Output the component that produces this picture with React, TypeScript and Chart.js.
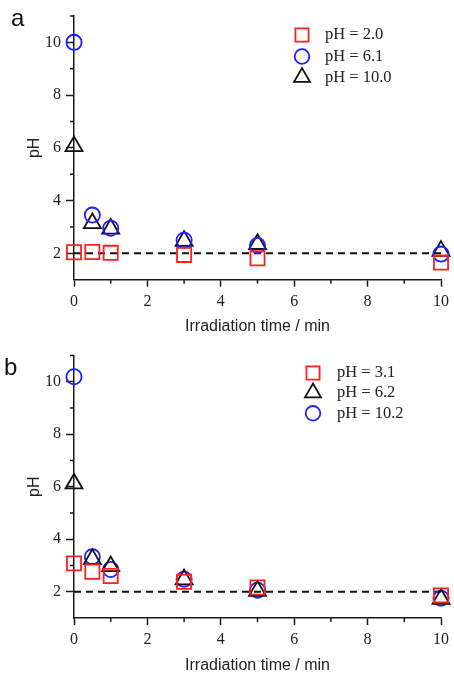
import React, { useEffect, useRef } from 'react';
import { Chart, registerables } from 'chart.js';

Chart.register(...registerables);

// ---------- data ----------
const timeMin = [0, 0.5, 1, 3, 5, 10];

const panelALabels = ['pH = 2.0', 'pH = 6.1', 'pH = 10.0'];
const panelASquares = [2.04, 2.05, 2.02, 1.94, 1.81, 1.65];
const panelACircles = [10.0, 3.45, 2.95, 2.5, 2.3, 1.97];
const panelATriangles = [6.06, 3.14, 2.93, 2.47, 2.35, 2.09];

const panelBLabels = ['pH = 3.1', 'pH = 6.2', 'pH = 10.2'];
const panelBSquares = [3.08, 2.76, 2.6, 2.38, 2.16, 1.86];
const panelBTriangles = [6.12, 3.24, 2.97, 2.47, 2.03, 1.73];
const panelBCircles = [10.19, 3.33, 2.85, 2.48, 2.06, 1.75];

const refLineX = [0, 10];
const refLineY = [2, 2];

const xMajorTicks = [0, 2, 4, 6, 8, 10];
const xMinorTicks = [1, 3, 5, 7, 9];
const yMajorTicks = [2, 4, 6, 8, 10];
const yMinorTicks = [3, 5, 7, 9, 11];

const xTitle = 'Irradiation time / min';
const yTitle = 'pH';

// ---------- styles ----------
const RED = '#ff1f1f';
const BLUE = '#1f1fff';
const BLACK = '#111111';
const AXIS = '#1a1a1a';
const TEXT = '#222222';
const SERIF = '"Liberation Serif", "Times New Roman", serif';
const SANS = '"Liberation Sans", Arial, sans-serif';
const MARK_W = 1.8;

type Series = { label: string; values: number[]; style: 'rect' | 'circle' | 'triangle'; color: string; radius: number; legendRadius: number };

const styleFor = {
  rect: { radius: 10, legendRadius: 9.3 },
  circle: { radius: 7.6, legendRadius: 7.3 },
  triangle: { radius: 9.8, legendRadius: 9.2 },
};

const panelASeries: Series[] = [
  { label: panelALabels[0], values: panelASquares, style: 'rect', color: RED, ...styleFor.rect },
  { label: panelALabels[1], values: panelACircles, style: 'circle', color: BLUE, ...styleFor.circle },
  { label: panelALabels[2], values: panelATriangles, style: 'triangle', color: BLACK, ...styleFor.triangle },
];
const panelBSeries: Series[] = [
  { label: panelBLabels[0], values: panelBSquares, style: 'rect', color: RED, ...styleFor.rect },
  { label: panelBLabels[1], values: panelBTriangles, style: 'triangle', color: BLACK, ...styleFor.triangle },
  { label: panelBLabels[2], values: panelBCircles, style: 'circle', color: BLUE, ...styleFor.circle },
];

function drawMarker(ctx: CanvasRenderingContext2D, style: string, x: number, y: number, r: number, color: string) {
  ctx.save();
  ctx.strokeStyle = color;
  ctx.lineWidth = MARK_W;
  ctx.beginPath();
  if (style === 'rect') {
    const h = r * Math.SQRT1_2;
    ctx.rect(x - h, y - h, 2 * h, 2 * h);
  } else if (style === 'circle') {
    ctx.arc(x, y, r, 0, Math.PI * 2);
  } else {
    ctx.moveTo(x, y - r);
    ctx.lineTo(x + 0.866 * r, y + r / 2);
    ctx.lineTo(x - 0.866 * r, y + r / 2);
    ctx.closePath();
  }
  ctx.stroke();
  ctx.restore();
}

type PanelProps = {
  series: Series[];
  width: number;
  height: number;
  padTop: number;
  padRight: number;
  axisHeight: number;
  legend: { markerX: number; textX: number; rows: number[] };
};

function Panel({ series, width, height, padTop, padRight, axisHeight, legend }: PanelProps) {
  const ref = useRef<HTMLCanvasElement | null>(null);
  useEffect(() => {
    if (!ref.current) return;
    const minorTickPlugin = {
      id: 'minorTicks',
      afterDraw(chart: any) {
        const { ctx } = chart;
        const xs = chart.scales.x;
        const ys = chart.scales.y;
        ctx.save();
        ctx.strokeStyle = AXIS;
        ctx.lineWidth = 1.5;
        for (const v of xMinorTicks) {
          const px = xs.getPixelForValue(v);
          ctx.beginPath();
          ctx.moveTo(px, xs.top);
          ctx.lineTo(px, xs.top + 4);
          ctx.stroke();
        }
        for (const v of yMinorTicks) {
          const py = ys.getPixelForValue(v);
          ctx.beginPath();
          ctx.moveTo(ys.right, py);
          ctx.lineTo(ys.right - 4, py);
          ctx.stroke();
        }
        ctx.restore();
      },
    };
    const legendPlugin = {
      id: 'markerLegend',
      afterDraw(chart: any) {
        const { ctx } = chart;
        ctx.save();
        ctx.font = `16.5px ${SERIF}`;
        ctx.fillStyle = TEXT;
        ctx.textBaseline = 'middle';
        ctx.textAlign = 'left';
        series.forEach((s, i) => {
          const y = legend.rows[i];
          drawMarker(ctx, s.style, legend.markerX, y, s.legendRadius, s.color);
          ctx.fillText(s.label, legend.textX, y);
        });
        ctx.restore();
      },
    };
    const datasets: any[] = series.map((s) => ({
      label: s.label,
      data: timeMin.map((x, i) => ({ x, y: s.values[i] })),
      pointStyle: s.style,
      pointRadius: s.radius,
      pointBorderColor: s.color,
      pointBackgroundColor: 'transparent',
      pointBorderWidth: MARK_W,
      borderColor: s.color,
      backgroundColor: 'transparent',
      showLine: false,
      clip: false,
    }));
    datasets.push({
      label: 'pH 2 reference',
      data: refLineX.map((x, i) => ({ x, y: refLineY[i] })),
      showLine: true,
      borderColor: BLACK,
      borderWidth: 2,
      borderDash: [7, 5],
      pointRadius: 0,
      clip: false,
    });
    const chart = new Chart(ref.current, {
      type: 'scatter',
      data: { datasets },
      options: {
        responsive: false,
        maintainAspectRatio: false,
        animation: false,
        events: [],
        layout: { padding: { left: 0, right: padRight, top: padTop, bottom: 0 } },
        plugins: { legend: { display: false }, tooltip: { enabled: false } },
        scales: {
          x: {
            type: 'linear',
            min: 0,
            max: 10,
            afterBuildTicks: (scale: any) => {
              scale.ticks = xMajorTicks.map((v) => ({ value: v }));
            },
            afterFit: (scale: any) => {
              scale.height = axisHeight;
            },
            ticks: {
              color: TEXT,
              font: { family: SERIF, size: 16 },
              padding: 5,
              maxRotation: 0,
              autoSkip: false,
              callback: (v: any) => String(v),
            },
            grid: { display: true, drawOnChartArea: false, drawTicks: true, tickLength: 7, tickColor: AXIS, tickWidth: 1.5 },
            border: { display: true, color: AXIS, width: 1.5 },
            title: { display: true, text: xTitle, color: TEXT, font: { family: SANS, size: 16 }, padding: 0 },
          },
          y: {
            type: 'linear',
            min: 1,
            max: 11,
            afterBuildTicks: (scale: any) => {
              scale.ticks = yMajorTicks.map((v) => ({ value: v }));
            },
            afterFit: (scale: any) => {
              scale.width = 74;
            },
            ticks: {
              color: TEXT,
              font: { family: SERIF, size: 16 },
              padding: 5,
              autoSkip: false,
              callback: (v: any) => String(v),
            },
            grid: { display: true, drawOnChartArea: false, drawTicks: true, tickLength: 8, tickColor: AXIS, tickWidth: 1.5 },
            border: { display: true, color: AXIS, width: 1.5 },
            title: { display: true, text: yTitle, color: TEXT, font: { family: SANS, size: 16 }, padding: { top: 25.4, bottom: 0 } },
          },
        },
      } as any,
      plugins: [minorTickPlugin, legendPlugin],
    });
    return () => chart.destroy();
  }, []);
  return <canvas ref={ref} width={width} height={height} style={{ display: 'block', width, height }} />;
}

const panelLetter: React.CSSProperties = {
  position: 'absolute',
  fontFamily: SANS,
  fontSize: 24,
  lineHeight: '24px',
  color: '#111',
};

export default function App() {
  return (
    <div style={{ position: 'absolute', left: 0, top: 0, width: 454, height: 675, background: '#fff', overflow: 'hidden' }}>
      <div style={{ position: 'absolute', left: 0, top: 0 }}>
        <Panel
          series={panelASeries}
          width={454}
          height={336}
          padTop={16}
          padRight={10.7}
          axisHeight={56.3}
          legend={{ markerX: 302, textX: 325, rows: [35, 56.5, 77.3] }}
        />
      </div>
      <div style={{ position: 'absolute', left: 0, top: 336 }}>
        <Panel
          series={panelBSeries}
          width={454}
          height={339}
          padTop={19.45}
          padRight={10.7}
          axisHeight={57}
          legend={{ markerX: 313, textX: 337, rows: [37, 56.7, 77.3] }}
        />
      </div>
      <div style={{ ...panelLetter, left: 11, top: 6 }}>a</div>
      <div style={{ ...panelLetter, left: 4, top: 355 }}>b</div>
    </div>
  );
}
